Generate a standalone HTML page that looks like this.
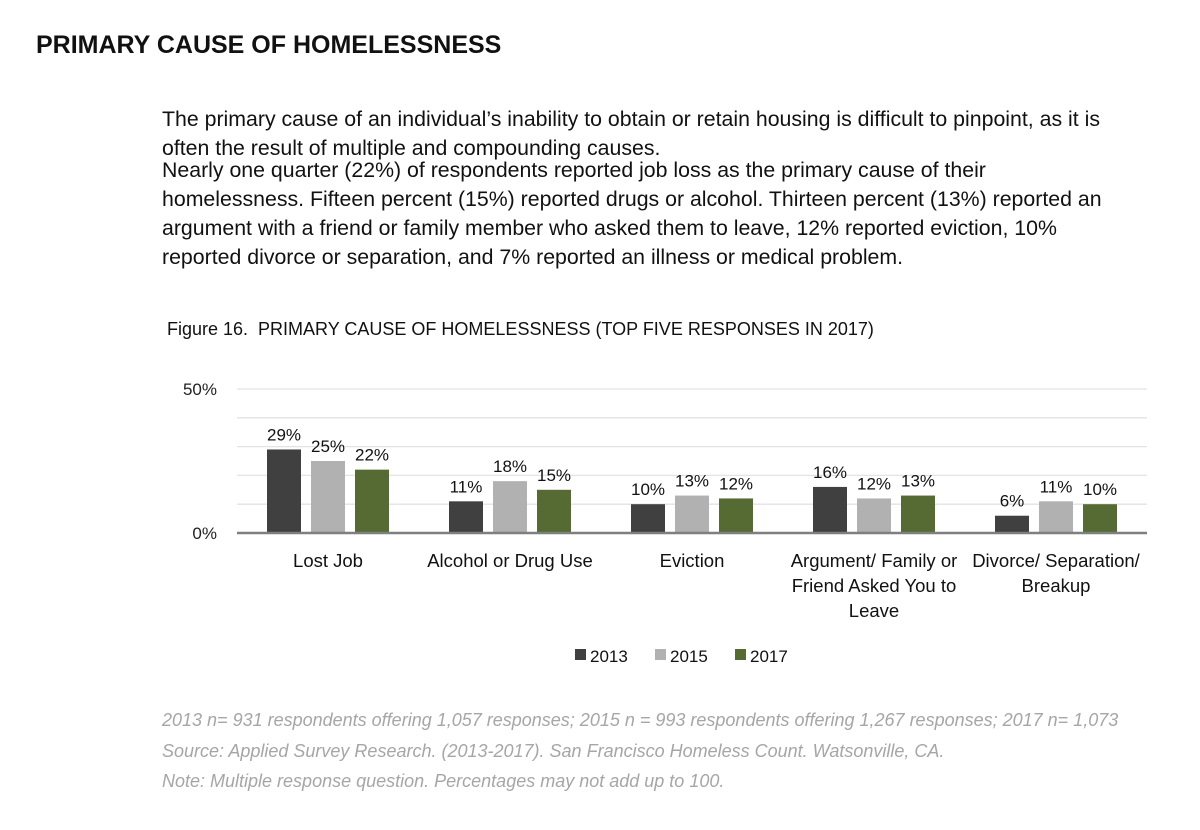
<!DOCTYPE html>
<html><head><meta charset="utf-8">
<style>
body{margin:0;background:#fff;width:1200px;height:830px;overflow:hidden;font-family:"Liberation Sans",sans-serif;}
#title{position:absolute;left:36px;top:31px;font-size:25px;font-weight:bold;color:#111;white-space:nowrap;}
.p{position:absolute;left:162px;font-size:21.3px;line-height:29px;color:#111;white-space:nowrap;}
#fig{position:absolute;left:167px;top:319px;font-size:18px;color:#111;white-space:nowrap;}
.note{position:absolute;left:162px;font-size:18px;font-style:italic;color:#a6a6a6;white-space:nowrap;}
svg{position:absolute;left:0;top:0;}
</style></head><body>
<div id="title">PRIMARY CAUSE OF HOMELESSNESS</div>
<div class="p" style="top:105px">The primary cause of an individual’s inability to obtain or retain housing is difficult to pinpoint, as it is<br>often the result of multiple and compounding causes.</div>
<div class="p" style="top:156px">Nearly one quarter (22%) of respondents reported job loss as the primary cause of their<br>homelessness. Fifteen percent (15%) reported drugs or alcohol. Thirteen percent (13%) reported an<br>argument with a friend or family member who asked them to leave, 12% reported eviction, 10%<br>reported divorce or separation, and 7% reported an illness or medical problem.</div>
<div id="fig">Figure 16.&nbsp; PRIMARY CAUSE OF HOMELESSNESS (TOP FIVE RESPONSES IN 2017)</div>
<svg id="chart" width="1200" height="830"></svg>
<div class="note" style="top:710px">2013 n= 931 respondents offering 1,057 responses; 2015 n = 993 respondents offering 1,267 responses; 2017 n= 1,073</div>
<div class="note" style="top:741px">Source: Applied Survey Research. (2013-2017). San Francisco Homeless Count. Watsonville, CA.</div>
<div class="note" style="top:771px">Note: Multiple response question. Percentages may not add up to 100.</div>
<script>
const categories=[["Lost Job"],["Alcohol or Drug Use"],["Eviction"],["Argument/ Family or","Friend Asked You to","Leave"],["Divorce/ Separation/","Breakup"]];
const years=["2013","2015","2017"];
const v2013=[29,11,10,16,6];
const v2015=[25,18,13,12,11];
const v2017=[22,15,12,13,10];
const yTicks=[0,50];
const colors=["#404040","#b1b1b1","#566b33"];
const svg=document.getElementById('chart');
const NS="http://www.w3.org/2000/svg";
const x0=237,x1=1147,y0=533,y50=389;
const y=v=>y0-(v/50)*(y0-y50);
const band=(x1-x0)/categories.length;
function mk(t,a){const e=document.createElementNS(NS,t);for(const k in a)e.setAttribute(k,a[k]);svg.appendChild(e);return e;}
for(let g=10;g<=50;g+=10){const l=mk('line',{x1:x0,x2:x1,y1:y(g),y2:y(g),stroke:'#e3e3e3','stroke-width':1.3});

}
yTicks.forEach(t=>{const e=mk('text',{x:217,y:y(t)+6,'text-anchor':'end','font-size':17,fill:'#222'});e.textContent=t+'%';

});
const series=[v2013,v2015,v2017];
categories.forEach((c,i)=>{const cx=x0+band*(i+0.5);
series.forEach((s,j)=>{const bx=cx-61+j*44;
const r=mk('rect',{x:bx,y:y(s[i]),width:34,height:y0-y(s[i]),fill:colors[j]});


const t=mk('text',{x:bx+17,y:y(s[i])-9,'text-anchor':'middle','font-size':17,fill:'#111'});t.textContent=s[i]+'%';

});
c.forEach((ln,k)=>{const t=mk('text',{x:cx,y:567+k*25,'text-anchor':'middle','font-size':18.5,fill:'#111'});t.textContent=ln;

});
});
const ax=mk('line',{x1:x0,x2:x1,y1:y0,y2:y0,stroke:'#7f7f7f','stroke-width':2.5});


years.forEach((yr,j)=>{const lx=575+j*80;
const r=mk('rect',{x:lx,y:649,width:11,height:11,fill:colors[j]});


const t=mk('text',{x:lx+15,y:662,'font-size':17,fill:'#111'});t.textContent=yr;

});
</script>
</body></html>
